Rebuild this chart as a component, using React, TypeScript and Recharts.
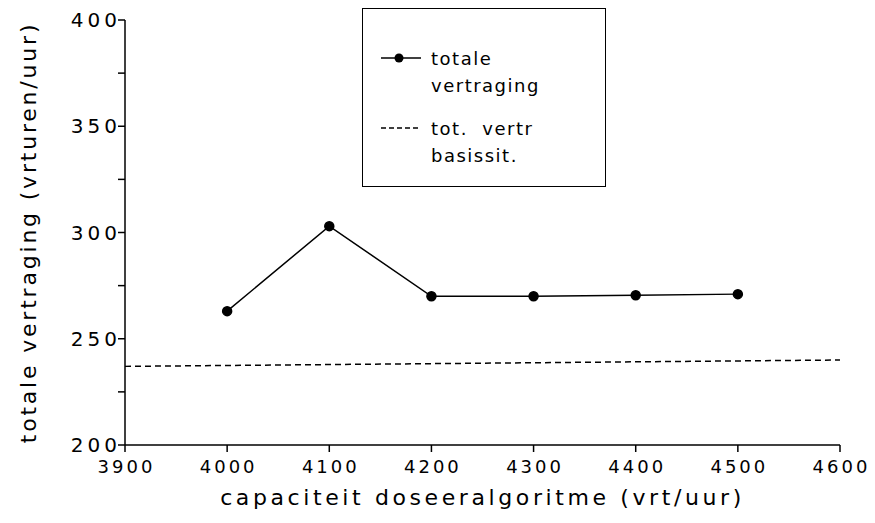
import React from "react"
import { LineChart, Line, XAxis, YAxis } from "recharts"

// capaciteit doseeralgoritme (vrt/uur)
const capacity = [4000, 4100, 4200, 4300, 4400, 4500]
// totale vertraging (vrturen/uur)
const totalDelay = [263, 303, 270, 270, 270.5, 271]
// tot. vertr basissit. (dashed reference, read at both ends)
const baseCapacity = [3900, 4600]
const baseDelay = [237, 240]

const xTicks = [3900, 4000, 4100, 4200, 4300, 4400, 4500, 4600]
const yTicks = [200, 225, 250, 275, 300, 325, 350, 375, 400]

const mainData = capacity.map((x, i) => ({ x, y: totalDelay[i] }))
const baseData = baseCapacity.map((x, i) => ({ x, y: baseDelay[i] }))

const font = "'DejaVu Sans', sans-serif"

function LegendBox() {
  return (
    <div
      style={{
        position: "absolute",
        left: 362,
        top: 8,
        width: 244,
        height: 179,
        border: "1.5px solid #000",
        background: "#fff",
        fontFamily: font,
        fontSize: 18,
        color: "#000",
        boxSizing: "border-box",
      }}
    >
      <svg width={60} height={140} style={{ position: "absolute", left: 14, top: 0 }}>
        <line x1={4} y1={49} x2={44} y2={49} stroke="#000" strokeWidth={1.5} />
        <circle cx={22} cy={49} r={4.5} fill="#000" />
        <line x1={4} y1={119} x2={44} y2={119} stroke="#000" strokeWidth={1.5} strokeDasharray="5 3" />
      </svg>
      <div style={{ position: "absolute", left: 68, top: 36, lineHeight: "27px", letterSpacing: 1.5 }}>
        totale<br />vertraging
      </div>
      <div style={{ position: "absolute", left: 68, top: 106, lineHeight: "27px", letterSpacing: 1.5 }}>
        tot.&nbsp; vertr<br />basissit.
      </div>
    </div>
  )
}

export default function App() {
  return (
    <div style={{ position: "absolute", left: 0, top: 0, width: 875, height: 523, background: "#fff" }}>
      <LineChart
        width={875}
        height={523}
        margin={{ top: 20, right: 35, bottom: 20, left: 65 }}
      >
        <XAxis
          dataKey="x"
          type="number"
          domain={[3900, 4600]}
          ticks={xTicks}
          allowDuplicatedCategory={false}
          stroke="#000"
          strokeWidth={1.5}
          tickSize={7}
          tick={{ fill: "#000", fontSize: 18, fontFamily: font, letterSpacing: 3, dy: 6, dx: 1.5 }}
          height={58}
          label={{
            value: "capaciteit  doseeralgoritme  (vrt/uur)",
            position: "insideBottom",
            offset: -2,
            fill: "#000",
            fontSize: 22,
            fontFamily: font,
            letterSpacing: 3.6,
          }}
        />
        <YAxis
          type="number"
          domain={[200, 400]}
          ticks={yTicks}
          stroke="#000"
          strokeWidth={1.5}
          tickSize={7}
          width={60}
          tickFormatter={(v) => (v % 50 === 0 ? `${v}` : "")}
          tick={{ fill: "#000", fontSize: 20, fontFamily: font, letterSpacing: 4, dx: 5 }}
          label={{
            value: "totale  vertraging  (vrturen/uur)",
            angle: -90,
            position: "insideLeft",
            offset: -37,
            fill: "#000",
            fontSize: 22,
            fontFamily: font,
            letterSpacing: 2.8,
            style: { textAnchor: "middle" },
          }}
        />
        <Line
          data={baseData}
          dataKey="y"
          stroke="#000"
          strokeWidth={1.5}
          strokeDasharray="6 4"
          dot={false}
          isAnimationActive={false}
        />
        <Line
          data={mainData}
          dataKey="y"
          stroke="#000"
          strokeWidth={1.5}
          dot={{ r: 4.5, fill: "#000", stroke: "#000" }}
          isAnimationActive={false}
        />
      </LineChart>
      <LegendBox />
    </div>
  )
}
